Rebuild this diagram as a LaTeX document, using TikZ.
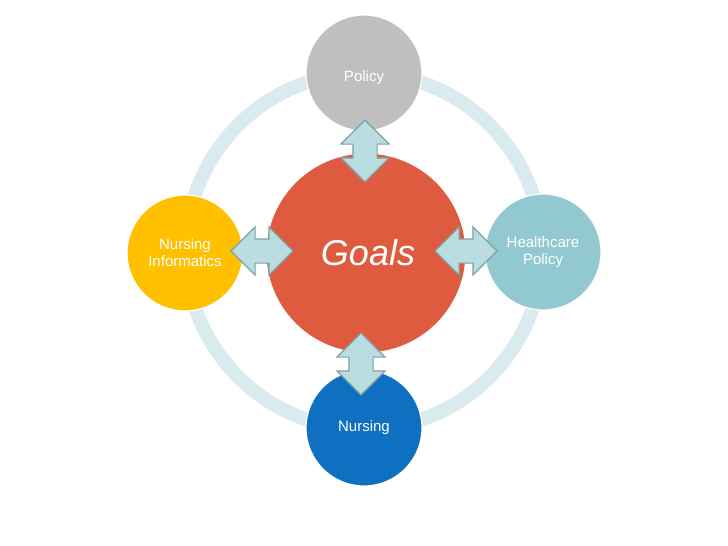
\documentclass[tikz,border=0pt]{standalone}
\usepackage{fontspec}
\setmainfont{Liberation Sans}
\usetikzlibrary{shapes.arrows}

\definecolor{ringblue}{HTML}{DAEBEF}
\definecolor{goalred}{HTML}{DF5B3F}
\definecolor{policygray}{HTML}{BFBFBF}
\definecolor{infoyellow}{HTML}{FFC000}
\definecolor{careteal}{HTML}{92C9D0}
\definecolor{nurseblue}{HTML}{0F6FC0}
\definecolor{linkfill}{HTML}{B9DDE1}
\definecolor{linkedge}{HTML}{7FA0A5}

\begin{document}
\begin{tikzpicture}[
  x=1pt, y=-1pt,
  every node/.style={
    circle, draw=white, line width=1.2pt, text=white,
    font=\fontsize{15}{17}\selectfont, align=center, inner sep=0pt
  },
  hub/.style={
    minimum size=200pt, fill=goalred,
    font=\fontsize{36}{40}\selectfont\itshape
  },
  spoke/.style={
    minimum size=116pt
  },
  link/.style={
    double arrow, draw=linkedge, fill=linkfill, line width=1.2pt,
    minimum height=62pt, inner xsep=0pt, inner ysep=11.5pt,
    double arrow head extend=12pt
  }
  ]
  \useasboundingbox (0,0) rectangle (728,546);

  % ring behind the circles
  \draw[ringblue, line width=14pt] (364,251) circle (178);

  \node[hub] (goals) at (366,253) {\hspace*{4pt}Goals};
  \node[spoke, fill=policygray] (policy) at (364,73) {\raisebox{-8pt}[0pt][0pt]{Policy}};
  \node[spoke, fill=nurseblue] (nursing) at (364,428) {Nursing};
  \node[spoke, fill=infoyellow] (informatics) at (185,253) {Nursing\\Informatics};
  \node[spoke, fill=careteal] (healthcare) at (543,252) {Healthcare\\Policy};

  % arrows between hub and spokes
  \node[link, rotate=90] (toppolicy) at (365,151) {};
  \node[link, rotate=90] (tonursing) at (361,364) {};
  \node[link] (toinformatics) at (262,251) {};
  \node[link] (tohealthcare) at (466,251) {};
\end{tikzpicture}
\end{document}
